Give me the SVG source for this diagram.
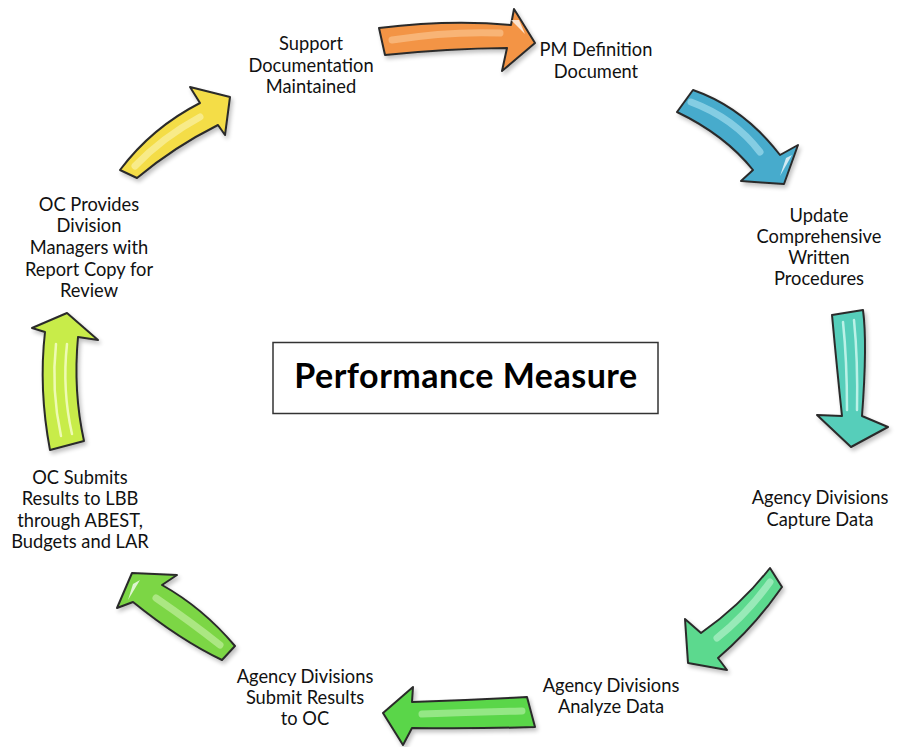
<svg xmlns="http://www.w3.org/2000/svg" width="903" height="747" viewBox="0 0 903 747">
  <style>
    .lbl { font-family: Lato, "Open Sans", "Liberation Sans", sans-serif; font-size: 18.3px; fill: #111; text-anchor: middle; }
    .title { font-family: Lato, "Open Sans", "Liberation Sans", sans-serif; font-size: 34px; font-weight: bold; letter-spacing: 0.5px; fill: #000; text-anchor: middle; }
    .arrow { stroke: #2b2b2b; stroke-width: 2; stroke-linejoin: round; filter: url(#shadow); }
    .shine { fill: none; stroke-linecap: round; stroke-width: 7; opacity: 0.65; }
    .thin { fill: none; stroke-linecap: round; stroke-width: 2.5; opacity: 0.8; }
    .glint { fill: #ffffff; opacity: 0.75; }
  </style>
  <defs>
    <filter id="shadow" x="-20%" y="-20%" width="140%" height="140%">
      <feGaussianBlur in="SourceAlpha" stdDeviation="2"/>
      <feOffset dx="2" dy="3" result="b"/>
      <feComponentTransfer><feFuncA type="linear" slope="0.25"/></feComponentTransfer>
      <feMerge><feMergeNode/><feMergeNode in="SourceGraphic"/></feMerge>
    </filter>
  </defs>
  <rect width="903" height="747" fill="#ffffff"/>

  <!-- cycle arrows -->
  <g id="connectors">
    <g id="arrow-orange">
      <path class="arrow" fill="#f39445" d="M379,28 Q449.5,19.5 511,25 L514,9 L535,43 L502,71 L507,48 Q448,48.5 385,55 Z"/>
      <path class="shine" stroke="#fbc590" d="M392,40 Q449,31 500,33"/>
      <path class="glint" d="M511,20 L519,20 L525,34 Z"/>
    </g>
    <g id="arrow-blue">
      <path class="arrow" fill="#47abcc" d="M693,90 Q743.5,107.5 780,155 L798,145 L784,184 L741,181 L753,170 Q725,135 677,112 Z"/>
      <path class="shine" stroke="#a6def0" d="M691,102 Q734,118 760,152"/>
      <path class="glint" d="M786,158 L792,155 L780,176 Z"/>
    </g>
    <g id="arrow-teal">
      <path class="arrow" fill="#57ceba" d="M863,310 Q867.5,343.5 862,416 L888,427 L851,447 L817,415 L842,416 Q837,369 832,315 Z"/>
      <path class="thin" stroke="#d4faf2" d="M843,322 Q847,360 847,410"/>
      <path class="thin" stroke="#d4faf2" d="M854,320 Q858,360 857,410"/>
    </g>
    <g id="arrow-mint">
      <path class="arrow" fill="#5bd98e" d="M770,568 Q740.5,605.5 701,633 L685,619 L688,663 L727,670 L718,658 Q754,627.5 782,587 Z"/>
      <path class="shine" stroke="#b9f3cf" d="M770,582 Q747,614 717,638"/>
    </g>
    <g id="arrow-green">
      <path class="arrow" fill="#5ad648" d="M527,697 Q470,700 412,702 L413,687 L383,713 L403,745 L412,728 Q472,729 535,727 Z"/>
      <path class="shine" stroke="#b3f0a6" d="M522,711 Q471,712 422,714"/>
    </g>
    <g id="arrow-leaf">
      <path class="arrow" fill="#7bd645" d="M235,646 Q203,608 162,585 L177,575 L132,573 L117,608 L133,602 Q180,640 222,660 Z"/>
      <path class="shine" stroke="#c4f0a3" d="M220,645 Q191,622 156,598"/>
      <path class="glint" d="M133,584 L140,580 L128,600 Z"/>
    </g>
    <g id="arrow-lime">
      <path class="arrow" fill="#c8ec4a" d="M45,332 L32,328 L67,313 L98,340 L78,337 Q73,391 84,441 L50,450 Q38.5,389 45,332 Z"/>
      <path class="thin" stroke="#f8fed0" d="M61,436 Q51,390 56,344"/>
      <path class="thin" stroke="#f8fed0" d="M72,434 Q62,390 67,344"/>
    </g>
    <g id="arrow-yellow">
      <path class="arrow" fill="#f4dd47" d="M120,170 Q152,127.5 200,103 L190,87 L230,97 L225,135 L218,125 Q174,147 137,178 Z"/>
      <path class="shine" stroke="#fbf2ad" d="M135,166 Q163,137 200,117"/>
    </g>
  </g>

  <g id="center">
    <rect x="273" y="342.5" width="385" height="71" fill="#ffffff" stroke="#333" stroke-width="1.5"/>
    <text class="title" x="466" y="388">Performance Measure</text>
  </g>

  <g id="node-support">
    <text class="lbl" x="311" y="50">Support</text>
    <text class="lbl" x="311" y="72">Documentation</text>
    <text class="lbl" x="311" y="93">Maintained</text>
  </g>
  <g id="node-pm-definition">
    <text class="lbl" x="596" y="56">PM Definition</text>
    <text class="lbl" x="596" y="78">Document</text>
  </g>
  <g id="node-update">
    <text class="lbl" x="819" y="222">Update</text>
    <text class="lbl" x="819" y="243">Comprehensive</text>
    <text class="lbl" x="819" y="264">Written</text>
    <text class="lbl" x="819" y="285">Procedures</text>
  </g>
  <g id="node-capture">
    <text class="lbl" x="820" y="504">Agency Divisions</text>
    <text class="lbl" x="820" y="526">Capture Data</text>
  </g>
  <g id="node-analyze">
    <text class="lbl" x="611" y="692">Agency Divisions</text>
    <text class="lbl" x="611" y="713">Analyze Data</text>
  </g>
  <g id="node-submit">
    <text class="lbl" x="305" y="683">Agency Divisions</text>
    <text class="lbl" x="305" y="704">Submit Results</text>
    <text class="lbl" x="305" y="725">to OC</text>
  </g>
  <g id="node-lbb">
    <text class="lbl" x="80" y="484">OC Submits</text>
    <text class="lbl" x="80" y="505">Results to LBB</text>
    <text class="lbl" x="80" y="527">through ABEST,</text>
    <text class="lbl" x="80" y="548">Budgets and LAR</text>
  </g>
  <g id="node-review">
    <text class="lbl" x="89" y="211">OC Provides</text>
    <text class="lbl" x="89" y="232">Division</text>
    <text class="lbl" x="89" y="254">Managers with</text>
    <text class="lbl" x="89" y="276">Report Copy for</text>
    <text class="lbl" x="89" y="297">Review</text>
  </g>
</svg>
